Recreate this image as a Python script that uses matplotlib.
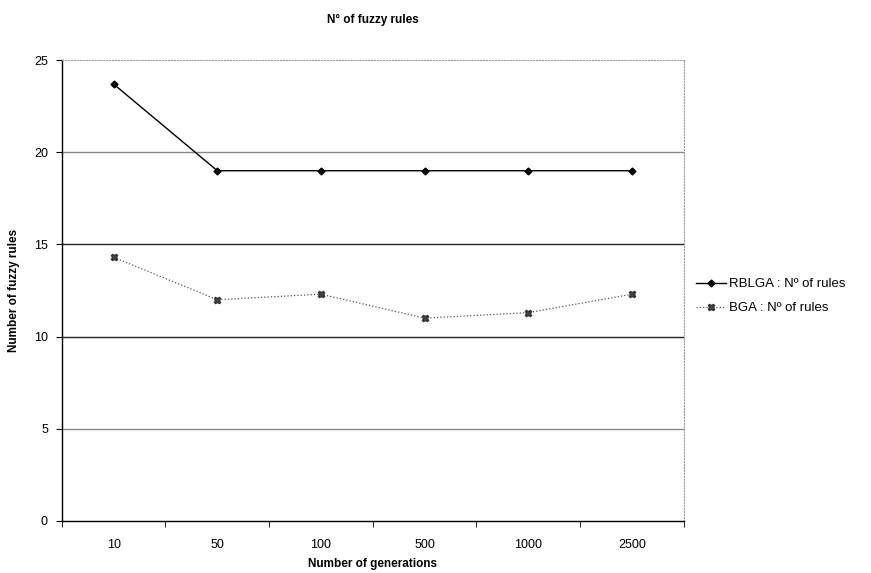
import matplotlib.pyplot as plt

plt.rcParams['font.family'] = ['Liberation Sans', 'DejaVu Sans']

generations = ["10", "50", "100", "500", "1000", "2500"]
rblga_rules = [23.7, 19, 19, 19, 19, 19]
bga_rules = [14.3, 12, 12.3, 11, 11.3, 12.3]

fig = plt.figure(figsize=(8.71, 5.73), dpi=100)
ax = fig.add_axes([0.071, 0.091, 0.714, 0.804])

x = range(len(generations))

# horizontal gridlines
for yv, col in [(20, "#8a8a8a"), (15, "#222222"), (10, "#222222"), (5, "#8a8a8a")]:
    ax.axhline(yv, color=col, lw=1.0, zorder=1)

ax.plot(x, rblga_rules, color="black", lw=1.0, marker="D", markersize=3.5,
        label="RBLGA : Nº of rules", zorder=3)
ax.plot(x, bga_rules, color="#555555", lw=0.9, ls=":", marker="X", markersize=5,
        markerfacecolor="#444444", markeredgecolor="#333333",
        label="BGA : Nº of rules", zorder=3)

ax.set_xlim(-0.5, len(generations) - 0.5)
ax.set_ylim(0, 25)
ax.set_yticks([0, 5, 10, 15, 20, 25])
ax.set_xticks(list(x))
ax.set_xticklabels(generations)
ax.set_xticks([i + 0.5 for i in range(-1, len(generations))], minor=True)
ax.tick_params(axis="x", which="major", length=0, pad=13, labelsize=9)
ax.tick_params(axis="x", which="minor", length=4, direction="out")
ax.tick_params(axis="y", length=4, direction="out", labelsize=9, pad=6)

for s in ["top", "right"]:
    ax.spines[s].set_color("#999999")
    ax.spines[s].set_linestyle(":")
    ax.spines[s].set_linewidth(0.8)
for s in ["left", "bottom"]:
    ax.spines[s].set_color("black")
    ax.spines[s].set_linewidth(1.0)

ax.set_xlabel("Number of generations", fontsize=8.5, fontweight="bold", labelpad=5)
ax.set_ylabel("Number of fuzzy rules", fontsize=8.5, fontweight="bold", labelpad=10)
fig.text(0.428, 0.965, "N° of fuzzy rules", fontsize=8.5, fontweight="bold",
         ha="center", va="center")

fig.legend(loc="center left", bbox_to_anchor=(0.786, 0.483), frameon=False,
           fontsize=9.5, handlelength=2.2, handletextpad=0.3, labelspacing=0.9)

fig.savefig("out.png", dpi=100)
